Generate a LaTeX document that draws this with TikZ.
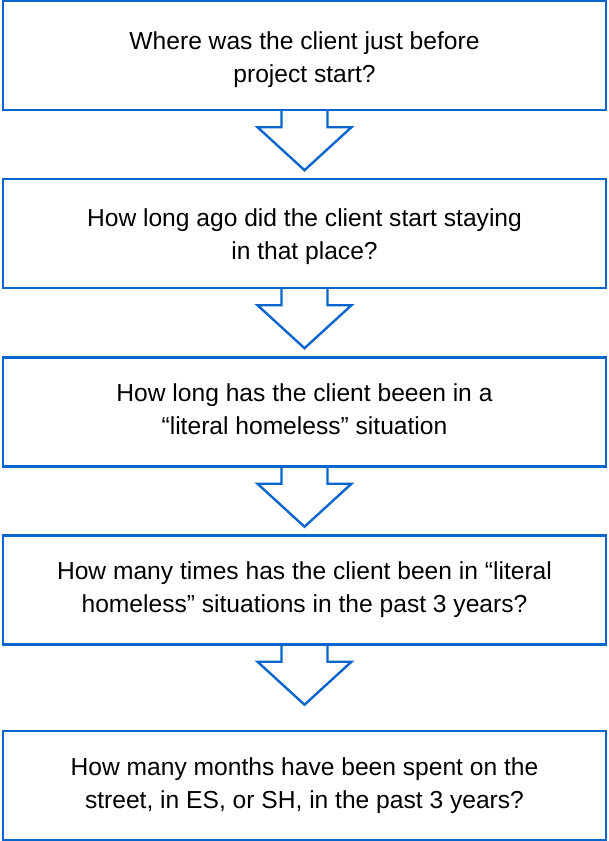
\documentclass[tikz,border=0pt]{standalone}
\usepackage{fontspec}
\setmainfont{Liberation Sans}
\usetikzlibrary{calc}
\definecolor{flowblue}{RGB}{10,102,204}
\newcommand{\lnstrut}{\vphantom{Hp}}
\begin{document}
\begin{tikzpicture}[x=1pt,y=-1pt,
  qbox/.style={draw=flowblue,line width=2.4pt,rectangle,minimum width=603pt,minimum height=109pt,inner sep=0pt,align=center,font=\fontsize{24.6}{33}\selectfont,text=black},
  barrow/.style={draw=flowblue,line width=2.4pt,line join=miter}]
\useasboundingbox (0,0) rectangle (608,841);
\node[qbox] (b1) at (304.5,55.5) {};
\node[qbox] (b2) at (304.5,233.5) {};
\node[qbox] (b3) at (304.5,412) {};
\node[qbox] (b4) at (304.5,590) {};
\node[qbox] (b5) at (304.5,785.5) {};
\node[qbox,draw=none,yshift=-4.5pt] (t1) at (b1) {\lnstrut Where was the client just before\\\lnstrut project start?};
\node[qbox,draw=none,yshift=-3.3pt] (t2) at (b2) {\lnstrut How long ago did the client start staying\\\lnstrut in that place?};
\node[qbox,draw=none] (t3) at (b3) {\lnstrut How long has the client beeen in a\\\lnstrut “literal homeless” situation};
\node[qbox,draw=none] (t4) at (b4) {\lnstrut How many times has the client been in “literal\\\lnstrut homeless” situations in the past 3 years?};
\node[qbox,draw=none] (t5) at (b5) {\lnstrut How many months have been spent on the\\\lnstrut street, in ES, or SH, in the past 3 years?};
\foreach \n in {b1,b2,b3,b4}{
  \draw[barrow] ($(\n.south)+(-23,0)$) -- ++(0,16) -- ++(-24,0) -- ++(47,43) -- ++(47,-43) -- ++(-24,0) -- ++(0,-16);
}
\end{tikzpicture}
\end{document}
